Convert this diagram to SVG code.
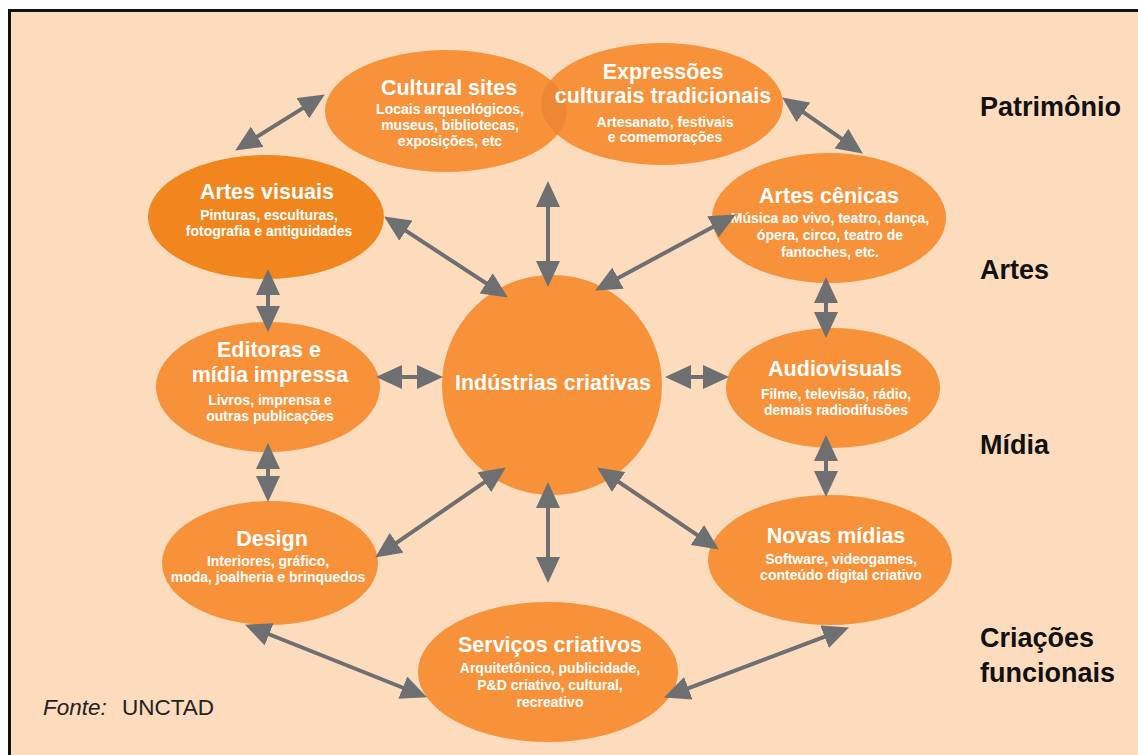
<svg xmlns="http://www.w3.org/2000/svg" width="1138" height="755" viewBox="0 0 1138 755">
<defs>
<style>
.node{fill:#F7923A}
.dark{fill:#F1861F}
.t{font-family:"Liberation Sans",Arial,sans-serif;font-weight:bold;font-size:21.5px;fill:#fff;text-anchor:middle}
.s{font-family:"Liberation Sans",Arial,sans-serif;font-weight:bold;font-size:14px;fill:#fff;text-anchor:middle}
.lab{font-family:"Liberation Sans",Arial,sans-serif;font-weight:bold;font-size:27px;fill:#111}
.con line{stroke:#6E6F71;stroke-width:4;marker-start:url(#ah);marker-end:url(#ah)}
</style>
<marker id="ah" viewBox="0 0 26 24" markerWidth="26" markerHeight="24" markerUnits="userSpaceOnUse" refX="13" refY="12" orient="auto-start-reverse">
<path d="M0,0 L26,12 L0,24 z" fill="#6E6F71"/>
</marker>
<clipPath id="cs"><ellipse cx="446" cy="111" rx="121" ry="61"/></clipPath>
</defs>
<rect x="9.5" y="10.5" width="1140" height="760" fill="#FDDBBD" stroke="#111" stroke-width="3"/>

<g id="cultural-sites">
<ellipse class="node" cx="446" cy="111" rx="121" ry="61"/>
</g>
<g id="expressoes">
<ellipse class="node" cx="662" cy="104" rx="121" ry="61"/>
<ellipse cx="662" cy="104" rx="121" ry="61" fill="#EE8733" clip-path="url(#cs)"/>
</g>
<g id="cultural-sites-text">
<text class="t" x="449" y="95">Cultural sites</text>
<text class="s" x="450" y="114">Locais arqueológicos,</text>
<text class="s" x="450" y="130">museus, bibliotecas,</text>
<text class="s" x="450" y="146">exposições, etc</text>
</g>
<g id="expressoes-text">
<text class="t" x="663" y="79">Expressões</text>
<text class="t" x="663" y="103">culturais tradicionais</text>
<text class="s" x="665" y="127">Artesanato, festivais</text>
<text class="s" x="665" y="142">e comemorações</text>
</g>

<g id="artes-visuais">
<ellipse class="dark" cx="266" cy="217" rx="118" ry="62"/>
<text class="t" x="267" y="199">Artes visuais</text>
<text class="s" x="269" y="220">Pinturas, esculturas,</text>
<text class="s" x="269" y="236">fotografia e antiguidades</text>
</g>

<g id="artes-cenicas">
<ellipse class="node" cx="829" cy="218" rx="117" ry="65"/>
<text class="t" x="829" y="203">Artes cênicas</text>
<text class="s" x="830" y="223">Música ao vivo, teatro, dança,</text>
<text class="s" x="830" y="240">ópera, circo, teatro de</text>
<text class="s" x="830" y="257">fantoches, etc.</text>
</g>

<g id="editoras">
<ellipse class="node" cx="268" cy="387" rx="112" ry="65"/>
<text class="t" x="269" y="357">Editoras e</text>
<text class="t" x="270" y="382">mídia impressa</text>
<text class="s" x="270" y="405">Livros, imprensa e</text>
<text class="s" x="270" y="421">outras publicações</text>
</g>

<g id="industrias">
<circle class="node" cx="552" cy="385" r="110"/>
<text class="t" x="553" y="390">Indústrias criativas</text>
</g>

<g id="audiovisuals">
<ellipse class="node" cx="833" cy="388" rx="107" ry="60"/>
<text class="t" x="835" y="376">Audiovisuals</text>
<text class="s" x="836" y="399">Filme, televisão, rádio,</text>
<text class="s" x="836" y="415">demais radiodifusões</text>
</g>

<g id="design">
<ellipse class="node" cx="270" cy="563" rx="108" ry="62"/>
<text class="t" x="272" y="546">Design</text>
<text class="s" x="268" y="566">Interiores, gráfico,</text>
<text class="s" x="268" y="582">moda, joalheria e brinquedos</text>
</g>

<g id="novas-midias">
<ellipse class="node" cx="830" cy="560" rx="122" ry="65"/>
<text class="t" x="836" y="543">Novas mídias</text>
<text class="s" x="841" y="564">Software, videogames,</text>
<text class="s" x="841" y="580">conteúdo digital criativo</text>
</g>

<g id="servicos">
<ellipse class="node" cx="548" cy="672" rx="130" ry="70"/>
<text class="t" x="550" y="652">Serviços criativos</text>
<text class="s" x="550" y="673">Arquitetônico, publicidade,</text>
<text class="s" x="550" y="690">P&amp;D criativo, cultural,</text>
<text class="s" x="550" y="707">recreativo</text>
</g>

<g id="connectors" class="con">
<line x1="246.2" y1="143.6" x2="313.8" y2="101.4"/>
<line x1="792.8" y1="104.9" x2="852.2" y2="146.1"/>
<line x1="548" y1="194" x2="548" y2="274"/>
<line x1="395" y1="223.6" x2="497" y2="290.4"/>
<line x1="724.4" y1="220.7" x2="606.6" y2="284.3"/>
<line x1="268" y1="282" x2="268" y2="319"/>
<line x1="826" y1="290" x2="826" y2="325"/>
<line x1="389" y1="377" x2="430" y2="377"/>
<line x1="678" y1="377" x2="716" y2="377"/>
<line x1="268" y1="456" x2="268" y2="489"/>
<line x1="826" y1="448" x2="826" y2="484"/>
<line x1="495.1" y1="474.8" x2="385.9" y2="550.2"/>
<line x1="548" y1="495" x2="548" y2="570"/>
<line x1="607.9" y1="474.7" x2="708.1" y2="542.3"/>
<line x1="257.1" y1="629.5" x2="414.9" y2="692.5"/>
<line x1="676.2" y1="692.8" x2="836.8" y2="632.2"/>
</g>

<g id="labels">
<text class="lab" x="980" y="116">Patrimônio</text>
<text class="lab" x="980" y="279">Artes</text>
<text class="lab" x="980" y="454">Mídia</text>
<text class="lab" x="980" y="647">Criações</text>
<text class="lab" x="980" y="682">funcionais</text>
</g>

<g id="fonte" font-family="'Liberation Sans',Arial,sans-serif" font-size="22.5" fill="#222">
<text x="43" y="715" font-style="italic">Fonte:</text>
<text x="122" y="715">UNCTAD</text>
</g>
</svg>
